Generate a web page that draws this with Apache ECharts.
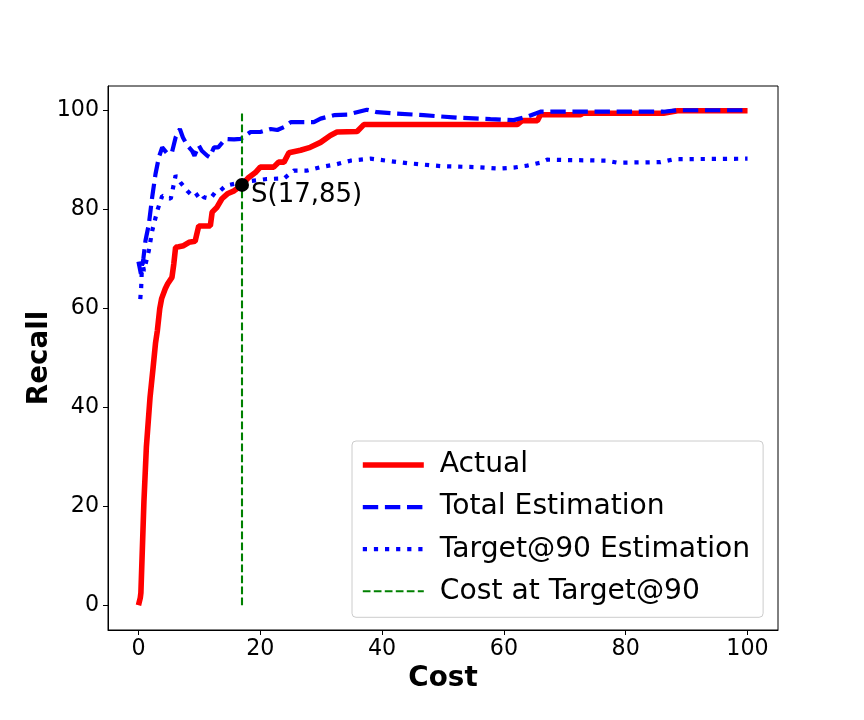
<!DOCTYPE html>
<html>
<head>
<meta charset="utf-8">
<script src="https://cdn.jsdelivr.net/npm/echarts@6/dist/echarts.min.js"></script>
<style>
  html, body { margin: 0; padding: 0; background: #fff; }
  #main { width: 864px; height: 720px; }
</style>
</head>
<body>
<div id="main"></div>
<script>
// values
var costActual = [0, 0.3, 0.4, 0.9, 1.3, 1.9, 2.4, 2.8, 3.1, 3.5, 3.8, 4.4, 4.8, 5.5, 5.8, 6.1, 6.6, 7.4, 8.3, 9.3, 9.9, 11.8, 12.1, 12.9, 13.7, 14.6, 15.7, 17, 18.1, 19.2, 20, 22.2, 23, 23.9, 24.7, 26.6, 28.2, 29.9, 31.5, 32.6, 35.9, 37, 62.2, 63, 65.5, 66, 72.6, 73, 86.2, 88.5, 100];
var recallActual = [0, 1.5, 2.5, 21, 32, 42, 48, 53, 55.5, 60, 62, 64, 65, 66.3, 69, 72.4, 72.5, 72.7, 73.4, 73.6, 76.7, 76.7, 79.5, 80.5, 82.2, 83.2, 83.8, 85, 86.5, 87.5, 88.6, 88.6, 89.6, 89.6, 91.5, 92, 92.6, 93.6, 95, 95.7, 95.8, 97.2, 97.2, 98, 98, 99.2, 99.2, 99.5, 99.5, 100, 100];

var costTotal = [0, 0.4, 0.8, 1.15, 1.7, 2.25, 2.8, 3.35, 3.9, 4.7, 5.5, 6.1, 6.8, 7.3, 8.0, 8.8, 9.2, 9.9, 10.4, 11.3, 11.7, 12.4, 13.1, 14.3, 15.7, 16.8, 18.4, 20, 21.7, 22.8, 23.9, 25, 28.8, 29.9, 32.1, 34.3, 37.5, 39.2, 41.4, 46.8, 52.3, 57.8, 61.6, 63.8, 66, 86.2, 88.5, 100];
var recallTotal = [69.5, 67, 70, 73.7, 77, 82.5, 87.2, 90.6, 92.6, 91.4, 91.6, 94.6, 96.3, 94.6, 93, 91.9, 90.9, 93, 91.9, 90.9, 90.6, 92.6, 92.6, 94.3, 94.2, 94.3, 95.7, 95.7, 96.3, 96.1, 96.7, 97.7, 97.7, 98.4, 99.1, 99.2, 100.2, 99.7, 99.5, 99.1, 98.6, 98.3, 98.1, 98.8, 99.8, 99.8, 100.1, 100.1];

var costTarget = [0.3, 0.45, 0.6, 0.9, 1.7, 2.25, 3.1, 3.9, 5.3, 6.1, 6.9, 8.0, 9.1, 10.2, 10.7, 11.8, 12.6, 13.4, 14.3, 16.7, 18.4, 21.1, 23.9, 25.5, 27.7, 29.9, 32.6, 34.8, 38.1, 44.1, 49.6, 55.1, 59.4, 61.6, 63.8, 66, 67.1, 76.9, 78.6, 85.7, 87.9, 100];
var recallTarget = [61.9, 64.3, 69.6, 67.6, 71.7, 75.7, 79.8, 82.8, 82.2, 86.9, 85.5, 83.8, 82.5, 83.5, 82.5, 82.2, 83.5, 83.8, 84.8, 85.5, 85.8, 86.2, 86.3, 87.9, 87.9, 88.6, 89.2, 89.9, 90.3, 89.4, 88.8, 88.6, 88.3, 88.5, 88.9, 89.5, 90.1, 89.9, 89.5, 89.6, 90.2, 90.3];

var stopCost = 17;
var stopRecall = 85;
var tickValues = [0, 20, 40, 60, 80, 100];
var seriesNames = ['Actual', 'Total Estimation', 'Target@90 Estimation', 'Cost at Target@90'];

function pairs(xs, ys) {
  var res = [];
  for (var i = 0; i < xs.length; i++) res.push([xs[i], ys[i]]);
  return res;
}

var FONT = 'DejaVu Sans';
var myChart = echarts.init(document.getElementById('main'));

var option = {
  animation: false,
  backgroundColor: '#fff',
  textStyle: { fontFamily: FONT },
  grid: {
    left: 108, right: 86, top: 86, bottom: 90,
    show: true, borderColor: '#000', borderWidth: 1, backgroundColor: 'transparent'
  },
  legend: {
    orient: 'vertical',
    left: 352, top: 441,
    data: seriesNames,
    itemWidth: 61, itemHeight: 14, itemGap: 10.1,
    padding: [8, 13, 10, 8],
    borderColor: '#cccccc', borderWidth: 1, borderRadius: 4,
    backgroundColor: 'rgba(255,255,255,0.8)',
    lineStyle: { width: 'inherit' },
    // hide the circle that line series put in their legend icon
    itemStyle: { color: 'rgba(0,0,0,0)', borderWidth: 0, opacity: 0 },
    textStyle: { fontFamily: FONT, fontSize: 28.2, color: '#000', lineHeight: 32, padding: [0, 0, 0, 11] }
  },
  xAxis: {
    type: 'value', min: -5, max: 105,
    name: 'Cost', nameLocation: 'middle', nameGap: 32,
    nameTextStyle: { fontFamily: FONT, fontSize: 27.8, fontWeight: 'bold', color: '#000' },
    axisLine: { show: true, onZero: false, lineStyle: { color: '#000', width: 1 } },
    axisTick: { show: true, length: 5, lineStyle: { color: '#000' }, customValues: tickValues },
    axisLabel: { fontFamily: FONT, fontSize: 22.2, color: '#000', margin: 8, customValues: tickValues },
    splitLine: { show: false }
  },
  yAxis: {
    type: 'value', min: -5, max: 105,
    name: 'Recall', nameLocation: 'middle', nameGap: 54, nameRotate: 90,
    nameMoveOverlap: false,
    nameTextStyle: { fontFamily: FONT, fontSize: 27.8, fontWeight: 'bold', color: '#000' },
    axisLine: { show: true, onZero: false, lineStyle: { color: '#000', width: 1 } },
    axisTick: { show: true, length: 5, lineStyle: { color: '#000' }, customValues: tickValues },
    axisLabel: { fontFamily: FONT, fontSize: 22.2, color: '#000', margin: 9, customValues: tickValues },
    splitLine: { show: false }
  },
  series: [
    {
      name: seriesNames[0], type: 'line', symbol: 'none',
      data: pairs(costActual, recallActual),
      lineStyle: { color: '#ff0000', width: 5.6, cap: 'butt' },
      itemStyle: { color: '#ff0000' },
      z: 2
    },
    {
      name: seriesNames[1], type: 'line', symbol: 'none',
      data: pairs(costTotal, recallTotal),
      lineStyle: { color: '#0000ff', width: 4.2, type: [15.4, 6.7] },
      itemStyle: { color: '#0000ff' },
      z: 3
    },
    {
      name: seriesNames[2], type: 'line', symbol: 'none',
      data: pairs(costTarget, recallTarget),
      lineStyle: { color: '#0000ff', width: 4.2, type: [4.2, 6.9] },
      itemStyle: { color: '#0000ff' },
      z: 4
    },
    {
      name: seriesNames[3], type: 'line', symbol: 'none',
      data: [[stopCost, 0], [stopCost, 100]],
      lineStyle: { color: '#008000', width: 2.1, type: [7.7, 3.3] },
      itemStyle: { color: '#008000' },
      z: 5
    },
    {
      name: 'S', type: 'scatter',
      data: [[stopCost, stopRecall]],
      symbolSize: 14,
      itemStyle: { color: '#000', opacity: 1 },
      label: {
        show: true, position: 'right', distance: 2, offset: [0, 10],
        formatter: 'S(' + stopCost + ',' + stopRecall + ')',
        fontFamily: FONT, fontSize: 26, color: '#000'
      },
      z: 6
    }
  ]
};

myChart.setOption(option);
window.addEventListener('resize', function () {
  myChart.resize();
});
</script>
</body>
</html>
